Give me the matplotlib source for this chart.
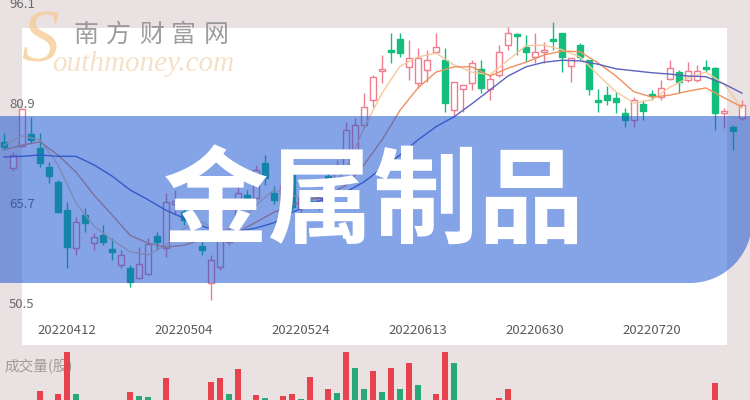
import numpy as np
import matplotlib
matplotlib.use("Agg")
import matplotlib.pyplot as plt
from matplotlib.patches import Rectangle, PathPatch
from matplotlib.path import Path
from matplotlib.transforms import blended_transform_factory

plt.rcParams['font.family'] = ['Noto Sans CJK SC', 'DejaVu Sans']

# ---- data ----
open_ = [75.3, 71.3, 74.7, 76.5, 74.4, 71.5, 69.2, 64.9, 59.2, 64.2,
         59.9, 61.1, 59.0, 56.6, 56.1, 54.6, 55.2, 61.0, 59.2, 65.9,
         64.6, 63.7, 59.5, 53.8, 56.3, 60.1, 63.4, 67.2, 66.8, 72.1,
         67.5, 66.2, 70.3, 65.2, 66.3, 65.7, 70.1, 69.2, 71.3, 74.1,
         77.9, 81.7, 86.1, 89.3, 90.9, 86.7, 84.2, 86.2, 89.0, 87.7,
         80.1, 83.3, 84.2, 86.4, 83.3, 85.5, 90.0, 91.7, 89.7, 88.2,
         89.0, 90.9, 91.8, 86.8, 90.0, 87.7, 81.7, 82.4, 82.0, 79.7,
         78.6, 81.1, 82.6, 82.1, 84.9, 85.9, 84.7, 84.7, 86.7, 86.5,
         79.7, 77.6, 78.9]
close = [74.5, 73.3, 80.3, 75.6, 72.1, 70.1, 64.6, 59.3, 63.1, 63.0,
         60.8, 60.1, 58.6, 58.1, 54.0, 56.7, 59.8, 60.1, 66.2, 66.3,
         63.4, 62.8, 58.9, 57.3, 61.6, 61.6, 67.5, 66.5, 71.0, 69.8,
         66.5, 68.7, 65.4, 66.8, 65.7, 66.8, 69.4, 71.3, 77.1, 77.9,
         80.6, 85.2, 86.4, 89.0, 88.8, 88.0, 88.0, 87.7, 89.7, 81.2,
         84.4, 83.9, 87.3, 83.5, 84.9, 89.0, 91.8, 91.4, 89.0, 89.0,
         89.3, 90.6, 88.2, 88.0, 88.2, 83.3, 81.4, 81.7, 81.4, 78.6,
         81.7, 80.0, 82.3, 83.5, 86.5, 84.4, 86.1, 86.1, 86.4, 79.7,
         80.0, 76.9, 80.9]
high = [76.6, 73.8, 80.4, 79.1, 76.6, 72.2, 69.5, 66.2, 63.9, 65.2,
        61.4, 62.7, 60.7, 58.9, 56.6, 59.3, 60.7, 61.6, 67.5, 68.0,
        65.7, 64.9, 60.4, 58.1, 62.2, 62.7, 68.7, 68.0, 71.8, 73.3,
        68.6, 69.5, 71.0, 67.5, 67.2, 67.5, 71.6, 72.5, 78.3, 78.9,
        82.7, 85.5, 88.5, 91.8, 91.8, 90.8, 89.6, 89.3, 91.8, 89.6,
        84.4, 83.9, 87.7, 87.7, 85.5, 90.0, 92.8, 91.8, 91.5, 91.8,
        90.5, 93.5, 91.8, 88.0, 90.3, 87.7, 83.3, 83.8, 82.9, 80.4,
        82.1, 81.7, 83.2, 84.7, 87.7, 86.2, 87.4, 87.0, 87.7, 86.7,
        80.4, 77.9, 81.7]
low = [74.1, 70.9, 74.5, 75.1, 71.5, 69.0, 64.5, 56.1, 58.1, 61.6,
       58.9, 59.6, 57.3, 56.1, 53.2, 54.5, 55.1, 58.9, 57.8, 64.2,
       62.7, 62.2, 58.1, 51.3, 55.8, 59.6, 63.1, 65.7, 66.5, 68.7,
       65.9, 65.7, 64.9, 64.6, 65.2, 64.9, 68.6, 68.7, 71.0, 73.8,
       77.4, 80.6, 84.2, 87.3, 88.2, 84.7, 83.5, 84.4, 89.0, 79.8,
       79.1, 79.8, 83.2, 82.7, 81.7, 85.2, 89.3, 88.5, 87.4, 87.3,
       87.3, 89.3, 85.9, 84.4, 87.7, 82.4, 79.8, 80.9, 79.7, 77.6,
       77.6, 78.6, 81.7, 81.7, 84.7, 82.7, 84.4, 84.4, 85.9, 77.1,
       77.4, 74.1, 78.6]

# moving averages, read every second session
ma_step = 2
ma5 = [74.8, 76.2, 75.6, 71.8, 66.0, 62.5, 60.4, 58.6, 58.1, 59.6,
       62.2, 63.1, 61.6, 62.7, 65.7, 68.0, 67.2, 66.5, 68.0, 71.0,
       77.4, 82.7, 86.8, 88.2, 88.8, 87.0, 85.9, 85.5, 87.7, 89.9,
       90.0, 89.3, 88.2, 85.5, 82.9, 81.2, 81.7, 83.6, 85.0, 85.9,
       84.1, 80.4]
ma10 = [74.1, 74.8, 75.3, 73.3, 70.7, 67.2, 64.2, 61.1, 59.9, 59.3,
        59.6, 60.4, 60.8, 61.6, 63.1, 64.6, 65.7, 66.5, 67.2, 68.7,
        71.8, 75.6, 80.1, 83.5, 85.9, 86.7, 86.7, 85.3, 86.5, 87.4,
        88.5, 89.1, 89.0, 87.3, 85.3, 82.9, 82.1, 82.4, 83.0, 83.5,
        82.0, 80.6]
ma20 = [73.0, 73.1, 73.3, 73.1, 73.1, 71.8, 70.1, 68.0, 66.5, 64.9,
        63.7, 62.5, 61.6, 61.7, 62.2, 63.0, 64.6, 65.7, 66.9, 67.7,
        69.2, 71.3, 73.3, 75.6, 77.6, 79.1, 81.1, 83.2, 85.3, 86.7,
        87.4, 87.7, 87.6, 87.1, 86.4, 86.1, 85.8, 85.6, 85.3, 85.2,
        84.1, 82.7]

# volume (only the tops of the bars show in the crop)
volume = [52, 48, 55, 50, 69, 54, 66, 115, 66, 50,
          45, 47, 44, 49, 68, 64, 63, 52, 82, 55,
          50, 48, 53, 78, 82, 66, 91, 56, 65, 62,
          55, 64, 66, 61, 83, 57, 71, 67, 118, 92,
          71, 89, 68, 92, 71, 97, 75, 58, 66, 120,
          97, 55, 58, 54, 52, 62, 71, 50, 48, 46,
          45, 50, 57, 48, 47, 55, 45, 42, 40, 44,
          50, 43, 38, 45, 52, 47, 44, 46, 40, 77,
          48, 50, 45]
vol_up = [0, 1, 1, 0, 1, 0, 1, 1, 0, 0,
          1, 0, 0, 1, 1, 0, 0, 0, 1, 1,
          0, 0, 0, 1, 1, 0, 1, 0, 1, 0,
          0, 1, 1, 0, 1, 1, 1, 0, 1, 0,
          0, 1, 0, 1, 0, 1, 0, 1, 1, 1,
          0, 1, 1, 0, 1, 1, 1, 0, 0, 1,
          1, 0, 0, 1, 0, 0, 0, 0, 0, 0,
          1, 0, 0, 1, 1, 0, 1, 1, 0, 1,
          1, 0, 1]

tick_idx = [7, 20, 33, 46, 59, 72]
tick_labels = ['20220412', '20220504', '20220524', '20220613', '20220630', '20220720']
y_labels = [96.1, 80.9, 65.7, 50.5]

title = '金属制品'
brand_cn = '南方财富网'

# ---- layout (pixels of a 750x400 image) ----
W, H = 750, 400
fig = plt.figure(figsize=(7.5, 4.0), dpi=100)
fig.patch.set_facecolor('#e9e1e2')

fig.add_artist(Rectangle((22 / W, 1 - 345 / H), (727 - 22) / W, (345 - 28) / H,
                         transform=fig.transFigure, facecolor='white',
                         edgecolor='none', zorder=-5))

# price axis: 96.1 sits at y=5px, 50.5 at y=305px
def price_at(ypx):
    return 50.5 + (305 - ypx) * (96.1 - 50.5) / 300.0

x0_px, step_px = 4, 9
xlim = ((0 - x0_px) / step_px, (W - x0_px) / step_px)

ax = fig.add_axes([0, 1 - 345 / H, 1, 345 / H])
ax.set_facecolor('none')
ax.axis('off')
ax.set_xlim(*xlim)
ax.set_ylim(price_at(345), price_at(0))

o = np.array(open_); c = np.array(close)
hi = np.array(high); lo = np.array(low)
idx = np.arange(len(c))
up = c >= o
red = '#ef7d8e'
green = '#15bd7d'
ax.vlines(idx, lo, hi, colors=np.where(up, red, green), lw=1, zorder=2)
body_lo = np.minimum(o, c)
body_h = np.maximum(np.abs(c - o), 0.25)
ax.bar(idx, body_h, bottom=body_lo, width=0.64,
       color=np.where(up, 'white', green),
       edgecolor=np.where(up, red, green), lw=1, zorder=3)

ma_x = np.arange(len(ma5)) * ma_step
ax.plot(ma_x, ma5, color='#f6c89a', lw=1, zorder=4)
ax.plot(ma_x, ma10, color='#ee9160', lw=1, zorder=4)
ax.plot(ma_x, ma20, color='#5a63bd', lw=1, zorder=4)

ylab_tr = blended_transform_factory(fig.transFigure, ax.transData)
for v in y_labels:
    ax.text(9 / W, v, f'{v:.1f}', transform=ylab_tr, ha='left', va='center',
            fontsize=9.5, color='#6a6a6a', clip_on=False, zorder=5)

xlab_tr = blended_transform_factory(ax.transData, fig.transFigure)
for i, lab in zip(tick_idx, tick_labels):
    ax.text(i, 1 - 331 / H, lab, transform=xlab_tr, ha='center', va='center',
            fontsize=9.5, color='#5a5a5a', clip_on=False)

# volume strip at the bottom
vax = fig.add_axes([0, 0, 1, 48 / H])
vax.set_facecolor('none')
vax.axis('off')
vax.set_xlim(*xlim)
vax.set_ylim(60, 108)
vax.bar(np.arange(len(volume)), volume, width=0.66,
        color=np.where(np.array(vol_up) == 1, '#e6434f', '#28a877'), zorder=2)
vax.text(4 / W, 1 - 367 / H, '成交量(股)', transform=fig.transFigure,
         ha='left', va='center', fontsize=10.5, color='#a09a9b', zorder=1)

# overlay: banner, title, watermark
ov = fig.add_axes([0, 0, 1, 1], zorder=5)
ov.set_facecolor('none')
ov.axis('off')
ov.set_xlim(0, W)
ov.set_ylim(H, 0)

top, bot, right, r = 116, 283, 752, 62
t = np.linspace(0, np.pi / 2, 30)
arc = np.column_stack([right - r + r * np.cos(t), bot - r + r * np.sin(t)])
verts = np.vstack([[-10, top], [right, top], arc, [-10, bot], [-10, top]])
codes = [Path.MOVETO] + [Path.LINETO] * (len(verts) - 2) + [Path.CLOSEPOLY]
ov.add_patch(PathPatch(Path(verts, codes), facecolor='#1451d2', alpha=0.52,
                       edgecolor='none', zorder=1))

ov.text(374, 205, title, ha='center', va='center', fontsize=76,
        fontweight='heavy', color='white', zorder=3)

ov.text(40, 44, 'S', ha='center', va='center', fontsize=54, style='italic',
        family='Liberation Serif', color='#f5cc98', alpha=0.8, zorder=2)
ov.text(52, 64, 'outhmoney.com', ha='left', va='center', fontsize=21,
        style='italic', family='Liberation Serif', color='#f3d9bb', alpha=0.8, zorder=2)
for k, ch in enumerate(brand_cn):
    ov.text(86 + k * 32.6, 35, ch, ha='center', va='center', fontsize=18,
            color='#8c8c8c', alpha=0.85, zorder=2)

fig.savefig('out.png', dpi=100, facecolor=fig.get_facecolor())
